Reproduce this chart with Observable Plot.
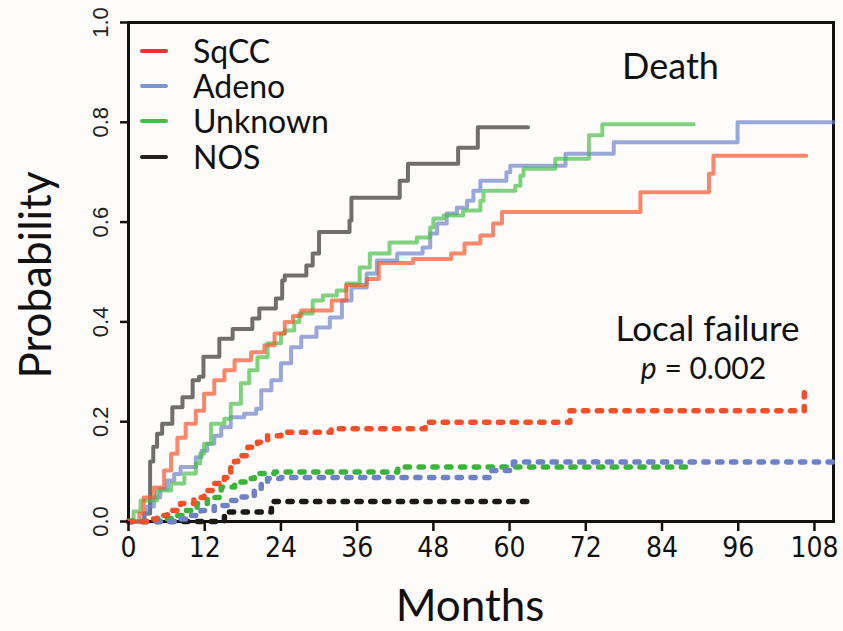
<!DOCTYPE html>
<html><head><meta charset="utf-8">
<script src="https://cdn.jsdelivr.net/npm/d3@7"></script>
<script src="https://cdn.jsdelivr.net/npm/@observablehq/plot@0.6"></script>
<style>
html,body{margin:0;padding:0;background:#fdfcfa;}
#wrap{position:relative;width:843px;height:631px;overflow:hidden;}
#legend{position:absolute;left:140px;top:33px;font-family:Lato,sans-serif;font-size:32px;color:#111;line-height:1;}
.row{display:flex;align-items:center;height:35.3px;}
.sw{width:28px;height:4px;border-radius:2px;margin-right:25px;}
</style></head><body><div id="wrap"><div id="legend"></div></div>
<script>
// ---- categories / labels ----
const series = ["SqCC", "Adeno", "Unknown", "NOS"];
const legendColors = ["#e8332f", "#7d93d2", "#4bbb48", "#222222"];
const deathColors = ["#f4572f", "#6f83c9", "#4cbf4c", "#333333"];
const failureColors = ["#f0502a", "#6f82c8", "#3cb43c", "#1a1a1a"];
const xTicks = [0, 12, 24, 36, 48, 60, 72, 84, 96, 108];
const yTicks = [0, 0.2, 0.4, 0.6, 0.8, 1.0];

// ---- Death (cumulative incidence), [month, probability] ----
const sqccDeath = [[0,0],[1.7,0.016],[2.4,0.048],[4,0.068],[5.6,0.102],[6.7,0.136],[7.7,0.168],[9,0.196],[10.6,0.222],[11.9,0.256],[13.5,0.283],[15.1,0.303],[16.7,0.323],[19.3,0.339],[21.4,0.353],[23,0.377],[24.6,0.4],[25.9,0.412],[27.2,0.423],[32,0.443],[34.3,0.474],[37.5,0.486],[39.4,0.518],[44.8,0.526],[50.8,0.537],[52.9,0.557],[55.4,0.573],[57.4,0.597],[58.8,0.62],[80.6,0.66],[91.4,0.697],[92.1,0.733],[106.7,0.733]];
const adenoDeath = [[0,0],[2.4,0.016],[3,0.03],[4,0.048],[5,0.065],[6.1,0.082],[7.2,0.095],[8.2,0.109],[10.6,0.129],[11.5,0.142],[12.4,0.156],[13.5,0.172],[14.6,0.189],[16.1,0.209],[18.2,0.216],[20.1,0.226],[20.9,0.263],[22.5,0.283],[24,0.317],[25.6,0.349],[27.2,0.37],[29.6,0.389],[31.7,0.409],[33.6,0.443],[35.1,0.469],[37.5,0.497],[39.1,0.523],[42.3,0.537],[46.3,0.549],[47.5,0.577],[48.6,0.597],[50.1,0.617],[51.7,0.629],[53.3,0.643],[54.3,0.663],[55.4,0.683],[59.5,0.7],[60.1,0.713],[68.8,0.737],[76.4,0.76],[95.9,0.8],[111,0.8]];
const unknownDeath = [[0,0],[0.8,0.02],[1.9,0.042],[4.5,0.062],[6.7,0.076],[8.8,0.096],[10.6,0.116],[11.3,0.136],[11.9,0.156],[13,0.196],[15.1,0.206],[16.1,0.236],[17.7,0.277],[19,0.303],[20.3,0.329],[21.9,0.357],[24,0.377],[24.6,0.383],[26.1,0.4],[26.9,0.417],[29,0.443],[30.6,0.453],[32.8,0.463],[34.3,0.477],[36.4,0.509],[38,0.537],[41.1,0.559],[45.4,0.569],[47.5,0.589],[48,0.607],[49.6,0.613],[52.7,0.623],[55.4,0.643],[55.9,0.663],[60.9,0.673],[61.7,0.693],[62.2,0.707],[67.2,0.727],[72.5,0.774],[74.6,0.796],[89,0.796]];
const nosDeath = [[0,0],[2.5,0.016],[3.4,0.12],[3.9,0.15],[4.5,0.176],[5.3,0.196],[6.9,0.229],[8.5,0.249],[10.1,0.283],[11.1,0.29],[11.8,0.33],[14.3,0.366],[16.4,0.386],[19.5,0.407],[20.6,0.427],[23.2,0.447],[24.2,0.483],[24.6,0.493],[28,0.513],[29,0.537],[30,0.58],[34.8,0.603],[35.1,0.649],[42.7,0.683],[44,0.717],[51.9,0.749],[55,0.79],[62.9,0.79]];

// ---- Local failure, [month, probability] ----
const sqccFailure = [[0,0],[3.5,0.005],[4.5,0.012],[6.1,0.022],[8.2,0.036],[10.3,0.048],[11.9,0.062],[13.5,0.076],[15.1,0.088],[16.1,0.108],[16.7,0.12],[17.2,0.132],[18.8,0.149],[20.3,0.159],[21.9,0.172],[24,0.179],[31.9,0.186],[46.7,0.199],[69.5,0.222],[106.4,0.259]];
const adenoFailure = [[0,0],[7.2,0.005],[9.2,0.012],[11.4,0.022],[13.5,0.032],[15.6,0.042],[17.7,0.049],[19.8,0.066],[20.9,0.076],[21.9,0.086],[24,0.088],[57.2,0.102],[60.6,0.119],[111,0.119]];
const unknownFailure = [[0,0],[4.5,0.005],[6.7,0.012],[8.8,0.022],[10.8,0.036],[12.4,0.048],[14.6,0.069],[16.7,0.079],[18.8,0.086],[19.8,0.096],[23,0.099],[42.4,0.109],[88.5,0.109]];
const nosFailure = [[0,0],[15.1,0.019],[22.5,0.04],[63.2,0.04]];

const deathData = [sqccDeath, adenoDeath, unknownDeath, nosDeath];
const failureData = [sqccFailure, adenoFailure, unknownFailure, nosFailure];

const toRows = (arr, name) => arr.map(([month, prob]) => ({series: name, month, prob}));

const deathOrder = [3, 1, 2, 0];
const deathMarks = deathOrder.map(i => Plot.line(toRows(deathData[i], series[i]), {
  x: "month", y: "prob", curve: "step-after",
  stroke: deathColors[i], strokeOpacity: 0.7, strokeWidth: 4
}));
const failureOrder = [3, 2, 1, 0];
const failureMarks = failureOrder.map(i => Plot.line(toRows(failureData[i], series[i]), {
  x: "month", y: "prob", curve: "step-after",
  stroke: failureColors[i], strokeWidth: 5.5, strokeDasharray: "4.2,9.6", strokeLinecap: "round"
}));

const chart = Plot.plot({
  width: 843, height: 631,
  marginLeft: 128, marginRight: 10, marginTop: 22, marginBottom: 110,
  style: {background: "#fdfcfa", fontFamily: "Lato, sans-serif", color: "#111", overflow: "visible"},
  x: {domain: [0, 111]},
  y: {domain: [0, 1]},
  marks: [
    Plot.frame({stroke: "#111", strokeWidth: 3}),
    ...deathMarks,
    ...failureMarks,
    Plot.axisX({ticks: xTicks, tickSize: 10, tickPadding: 6, strokeWidth: 2.5, fontSize: 28,
      fontFamily: "'Liberation Sans Narrow', 'Arial Narrow', 'DejaVu Sans Condensed', sans-serif", label: null}),
    Plot.axisY({ticks: yTicks, tickSize: 8, tickPadding: 13, tickRotate: -90, strokeWidth: 2.5, fontSize: 22,
      fontFamily: "'Liberation Sans', Arial, sans-serif", tickFormat: d3.format(".1f"), label: null, fill: "#222"}),
    Plot.text(["Probability"], {text: d => d, frameAnchor: "left", rotate: -90, dx: -78, dy: 3, fontSize: 44, lineAnchor: "bottom", textAnchor: "middle"}),
    Plot.text(["Months"], {text: d => d, frameAnchor: "bottom", dx: -11, dy: 99, fontSize: 44, lineAnchor: "bottom", textAnchor: "middle"}),
    Plot.text(["Death"], {text: d => d, frameAnchor: "top-left", dx: 542, dy: 56, fontSize: 36, lineAnchor: "bottom", textAnchor: "middle"}),
    Plot.text(["Local failure\np = 0.002"], {text: d => d, frameAnchor: "top-left", dx: 579, dy: 291, fontSize: 35, lineAnchor: "top", lineHeight: 1.1, textAnchor: "middle", className: "lf-note"})
  ]
});
const wrap = document.getElementById("wrap");
wrap.insertBefore(chart, wrap.firstChild);

// italic "p" and smaller second line of the local-failure note
const note = chart.querySelector(".lf-note text");
if (note) {
  const spans = note.querySelectorAll("tspan");
  if (spans.length === 2) {
    const second = spans[1];
    second.setAttribute("font-size", 30);
    second.setAttribute("dy", 38);
    second.setAttribute("dx", -4);
    second.textContent = "";
    const ns = "http://www.w3.org/2000/svg";
    const ip = document.createElementNS(ns, "tspan");
    ip.setAttribute("font-style", "italic");
    ip.textContent = "p";
    second.appendChild(ip);
    second.appendChild(document.createTextNode(" = 0.002"));
  }
}

const legend = document.getElementById("legend");
series.forEach((name, i) => {
  const row = document.createElement("div");
  row.className = "row";
  const sw = document.createElement("div");
  sw.className = "sw";
  sw.style.background = legendColors[i];
  const lab = document.createElement("span");
  lab.textContent = name;
  row.appendChild(sw); row.appendChild(lab);
  legend.appendChild(row);
});
</script>
</body></html>
